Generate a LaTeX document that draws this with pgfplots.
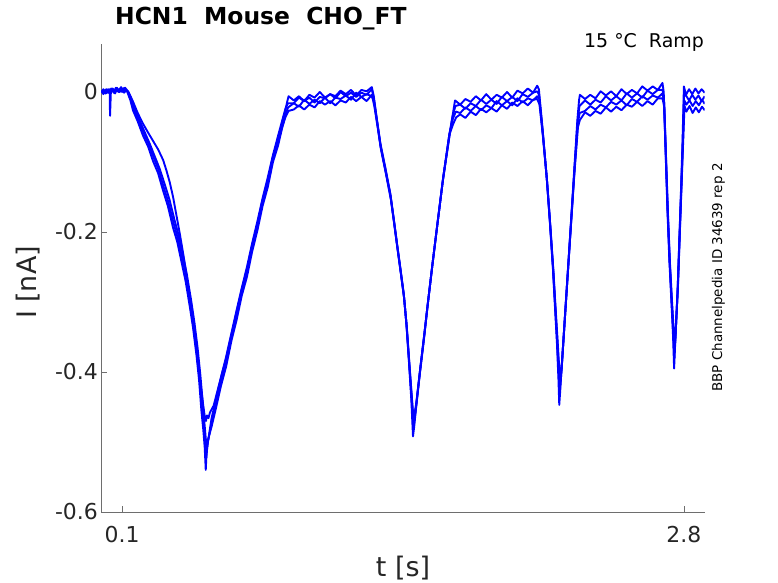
\documentclass[border=0pt]{standalone}
\usepackage{fontspec}
\setmainfont{DejaVu Sans}
\usepackage{graphicx}
\usepackage{pgfplots}
\pgfplotsset{compat=1.18}
\definecolor{txt}{RGB}{38,38,38}
\definecolor{axc}{RGB}{110,110,110}
\pgfplotsset{trace/.style={color=blue, no markers, line width=1.9pt, line join=round}}
\begin{document}
\begin{tikzpicture}
\begin{axis}[
  at={(101.3bp,71bp)}, anchor=south west,
  scale only axis, width=603.4bp, height=468bp,
  xmin=0, xmax=2.9, ymin=-0.6, ymax=0.0686,
  axis x line*=bottom, axis y line*=left,
  axis line style={-, axc, line width=0.6pt},
  xtick={0.1,2.8}, xticklabels={0.1,2.8},
  ytick={-0.6,-0.4,-0.2,0}, yticklabels={-0.6,-0.4,-0.2,0},
  tick align=inside, major tick length=6bp,
  tick style={axc, line width=0.6pt},
  ticklabel style={font=\fontsize{22}{26}\selectfont, text=txt},
  xticklabel style={anchor=base, yshift=-30.7bp},
]
% trace 1
\addplot[trace] coordinates {(0.000,0.002) (0.010,-0.003) (0.020,0.003) (0.030,-0.001) (0.040,0.004) (0.042,-0.034) (0.046,0.000) (0.055,0.005) (0.065,-0.001) (0.075,0.006) (0.085,0.001) (0.095,0.007) (0.105,0.002) (0.115,0.006) (0.125,0.000)
(0.14,-0.012) (0.152,-0.026) (0.175,-0.042) (0.200,-0.062) (0.225,-0.078) (0.249,-0.099) (0.273,-0.116) (0.297,-0.141) (0.320,-0.163) (0.345,-0.194) (0.365,-0.214) (0.385,-0.242) (0.405,-0.270) (0.425,-0.306) (0.441,-0.337) (0.457,-0.375) (0.470,-0.412) (0.481,-0.455) (0.490,-0.482) (0.497,-0.508) (0.502,-0.540) (0.506,-0.515) (0.512,-0.500)
(0.530,-0.472) (0.550,-0.447) (0.575,-0.414) (0.600,-0.386) (0.625,-0.350) (0.650,-0.320) (0.675,-0.285) (0.700,-0.258) (0.725,-0.222) (0.750,-0.192) (0.775,-0.157) (0.800,-0.130) (0.825,-0.094) (0.850,-0.070) (0.870,-0.043) (0.885,-0.025) (0.895,-0.012)
(0.900,-0.006) (0.925,-0.012) (0.950,-0.006) (0.975,-0.013) (1.000,-0.004) (1.025,-0.008) (1.050,0.000) (1.075,-0.008) (1.100,-0.003) (1.125,-0.006) (1.150,0.002) (1.175,-0.003) (1.200,0.003) (1.225,-0.005) (1.250,0.003) (1.275,0.001) (1.300,0.007)
(1.309,-0.005) (1.325,-0.040) (1.341,-0.073) (1.365,-0.108) (1.389,-0.145) (1.405,-0.180) (1.421,-0.216) (1.437,-0.251) (1.453,-0.287) (1.466,-0.330) (1.478,-0.383) (1.490,-0.440) (1.498,-0.492)
(1.505,-0.475) (1.510,-0.459) (1.530,-0.405) (1.550,-0.355) (1.566,-0.311) (1.590,-0.250) (1.614,-0.192) (1.640,-0.130) (1.670,-0.070) (1.685,-0.040) (1.700,-0.012)
(1.725,-0.018) (1.750,-0.010) (1.775,-0.014) (1.800,-0.006) (1.825,-0.012) (1.850,-0.003) (1.875,-0.011) (1.900,-0.004) (1.925,-0.008) (1.950,0.000) (1.975,-0.008) (2.000,0.002) (2.025,-0.002) (2.050,0.005) (2.075,-0.001) (2.095,0.009)
(2.103,0.004) (2.120,-0.050) (2.140,-0.120) (2.155,-0.182) (2.170,-0.250) (2.180,-0.305) (2.190,-0.360) (2.197,-0.410) (2.201,-0.447)
(2.206,-0.425) (2.210,-0.405) (2.230,-0.312) (2.250,-0.220) (2.270,-0.125) (2.288,-0.040) (2.296,-0.012)
(2.300,-0.004) (2.325,-0.010) (2.350,-0.004) (2.375,-0.009) (2.400,0.001) (2.425,-0.005) (2.450,0.001) (2.475,-0.006) (2.500,0.004) (2.525,-0.003) (2.550,0.003) (2.575,-0.002) (2.600,0.008) (2.625,0.002) (2.650,0.008) (2.675,0.003) (2.697,0.013)
(2.703,0.000) (2.712,-0.085) (2.721,-0.170) (2.730,-0.240) (2.740,-0.300) (2.748,-0.350) (2.753,-0.395)
(2.758,-0.360) (2.769,-0.290) (2.777,-0.220) (2.785,-0.150) (2.793,-0.075) (2.800,0.008)
(2.810,-0.004) (2.825,0.004) (2.840,-0.003) (2.855,0.005) (2.870,-0.002) (2.885,0.004) (2.900,-0.001)};
% trace 2
\addplot[trace] coordinates {(0.000,-0.001) (0.010,0.004) (0.020,-0.002) (0.030,0.003) (0.040,-0.002) (0.050,0.004) (0.060,0.000) (0.070,0.006) (0.080,0.001) (0.090,0.005) (0.100,0.000) (0.110,0.006) (0.120,0.002) (0.128,0.001)
(0.140,-0.008) (0.155,-0.024) (0.178,-0.040) (0.203,-0.058) (0.228,-0.075) (0.252,-0.094) (0.276,-0.112) (0.300,-0.136) (0.323,-0.158) (0.348,-0.188) (0.368,-0.209) (0.388,-0.236) (0.408,-0.264) (0.428,-0.300) (0.444,-0.331) (0.460,-0.368) (0.473,-0.405) (0.484,-0.446) (0.493,-0.478) (0.500,-0.505) (0.505,-0.522) (0.510,-0.505)
(0.530,-0.466) (0.550,-0.440) (0.575,-0.408) (0.600,-0.378) (0.625,-0.345) (0.650,-0.312) (0.675,-0.280) (0.700,-0.250) (0.725,-0.216) (0.750,-0.185) (0.775,-0.152) (0.800,-0.122) (0.825,-0.090) (0.850,-0.062) (0.870,-0.040) (0.885,-0.024) (0.897,-0.016)
(0.925,-0.016) (0.950,-0.008) (0.975,-0.013) (1.000,-0.008) (1.025,-0.015) (1.050,-0.007) (1.075,-0.009) (1.100,-0.003) (1.125,-0.009) (1.150,0.000) (1.175,-0.006) (1.200,-0.001) (1.225,-0.007) (1.250,-0.001) (1.275,-0.004) (1.300,0.004)
(1.310,-0.010) (1.326,-0.043) (1.342,-0.076) (1.366,-0.111) (1.390,-0.148) (1.406,-0.183) (1.422,-0.219) (1.438,-0.254) (1.454,-0.290) (1.467,-0.333) (1.479,-0.385) (1.491,-0.438) (1.499,-0.478)
(1.506,-0.468) (1.512,-0.452) (1.532,-0.398) (1.552,-0.348) (1.568,-0.306) (1.592,-0.245) (1.616,-0.187) (1.642,-0.125) (1.672,-0.062) (1.688,-0.035) (1.702,-0.020)
(1.725,-0.018) (1.750,-0.024) (1.775,-0.016) (1.800,-0.020) (1.825,-0.011) (1.850,-0.017) (1.875,-0.011) (1.900,-0.017) (1.925,-0.007) (1.950,-0.013) (1.975,-0.007) (2.000,-0.013) (2.025,-0.003) (2.050,-0.007) (2.075,-0.001) (2.095,0.001)
(2.104,-0.004) (2.121,-0.055) (2.141,-0.123) (2.156,-0.185) (2.171,-0.252) (2.181,-0.305) (2.191,-0.358) (2.198,-0.400) (2.203,-0.428)
(2.208,-0.412) (2.212,-0.398) (2.232,-0.305) (2.252,-0.212) (2.272,-0.120) (2.289,-0.042) (2.298,-0.020)
(2.325,-0.012) (2.350,-0.018) (2.375,-0.011) (2.400,-0.015) (2.425,-0.006) (2.450,-0.012) (2.475,-0.006) (2.500,-0.012) (2.525,-0.002) (2.550,-0.008) (2.575,-0.002) (2.600,-0.008) (2.625,0.002) (2.650,-0.003) (2.675,0.003) (2.697,0.003)
(2.704,-0.008) (2.713,-0.090) (2.722,-0.172) (2.731,-0.240) (2.741,-0.300) (2.749,-0.345) (2.754,-0.380)
(2.759,-0.350) (2.770,-0.282) (2.778,-0.214) (2.786,-0.146) (2.794,-0.075) (2.801,-0.004)
(2.810,-0.005) (2.825,-0.012) (2.840,-0.004) (2.855,-0.011) (2.870,-0.005) (2.885,-0.013) (2.900,-0.006)};
% trace 3
\addplot[trace] coordinates {(0.000,0.001) (0.012,-0.002) (0.024,0.004) (0.036,0.000) (0.048,0.005) (0.060,-0.001) (0.072,0.004) (0.084,0.000) (0.096,0.006) (0.108,0.001) (0.120,0.004) (0.130,0.000)
(0.145,-0.010) (0.160,-0.024) (0.183,-0.040) (0.208,-0.057) (0.233,-0.074) (0.257,-0.092) (0.281,-0.110) (0.305,-0.132) (0.328,-0.154) (0.352,-0.183) (0.372,-0.205) (0.392,-0.232) (0.412,-0.262) (0.432,-0.298) (0.448,-0.330) (0.463,-0.366) (0.476,-0.404) (0.487,-0.442) (0.496,-0.474) (0.503,-0.498) (0.508,-0.508) (0.512,-0.498)
(0.530,-0.478) (0.550,-0.453) (0.575,-0.420) (0.600,-0.392) (0.625,-0.356) (0.650,-0.326) (0.675,-0.291) (0.700,-0.264) (0.725,-0.228) (0.750,-0.198) (0.775,-0.163) (0.800,-0.136) (0.825,-0.100) (0.850,-0.076) (0.870,-0.050) (0.885,-0.032) (0.898,-0.022)
(0.925,-0.016) (0.950,-0.021) (0.975,-0.011) (1.000,-0.017) (1.025,-0.011) (1.050,-0.016) (1.075,-0.008) (1.100,-0.016) (1.125,-0.008) (1.150,-0.010) (1.175,-0.005) (1.200,-0.011) (1.225,-0.001) (1.250,-0.007) (1.275,-0.003) (1.300,-0.006)
(1.311,-0.014) (1.327,-0.046) (1.343,-0.079) (1.367,-0.114) (1.391,-0.151) (1.407,-0.186) (1.423,-0.222) (1.439,-0.257) (1.455,-0.293) (1.468,-0.336) (1.480,-0.387) (1.492,-0.436) (1.500,-0.470)
(1.507,-0.462) (1.513,-0.448) (1.533,-0.395) (1.553,-0.345) (1.569,-0.303) (1.593,-0.243) (1.617,-0.185) (1.643,-0.123) (1.673,-0.060) (1.690,-0.038) (1.704,-0.028)
(1.725,-0.030) (1.750,-0.022) (1.775,-0.027) (1.800,-0.020) (1.825,-0.026) (1.850,-0.019) (1.875,-0.023) (1.900,-0.013) (1.925,-0.019) (1.950,-0.013) (1.975,-0.019) (2.000,-0.009) (2.025,-0.015) (2.050,-0.009) (2.075,-0.012) (2.095,-0.006)
(2.105,-0.010) (2.122,-0.060) (2.142,-0.126) (2.157,-0.188) (2.172,-0.254) (2.182,-0.306) (2.192,-0.356) (2.199,-0.395) (2.204,-0.420)
(2.209,-0.405) (2.213,-0.392) (2.233,-0.300) (2.253,-0.208) (2.273,-0.117) (2.290,-0.045) (2.299,-0.030)
(2.325,-0.027) (2.350,-0.020) (2.375,-0.025) (2.400,-0.018) (2.425,-0.022) (2.450,-0.014) (2.475,-0.018) (2.500,-0.012) (2.525,-0.019) (2.550,-0.010) (2.575,-0.014) (2.600,-0.006) (2.625,-0.011) (2.650,-0.005) (2.675,-0.008) (2.697,-0.002)
(2.705,-0.015) (2.714,-0.095) (2.723,-0.175) (2.732,-0.242) (2.742,-0.300) (2.750,-0.342) (2.755,-0.372)
(2.760,-0.345) (2.771,-0.278) (2.779,-0.210) (2.787,-0.143) (2.795,-0.075) (2.802,-0.012)
(2.812,-0.018) (2.827,-0.012) (2.842,-0.020) (2.857,-0.013) (2.872,-0.019) (2.887,-0.011) (2.900,-0.017)};
% trace 4
\addplot[trace] coordinates {(0.000,0.000) (0.011,0.003) (0.022,-0.002) (0.033,0.004) (0.044,-0.001) (0.055,0.003) (0.066,-0.002) (0.077,0.005) (0.088,0.000) (0.099,0.004) (0.110,-0.001) (0.120,0.003) (0.130,0.000)
(0.150,-0.012) (0.175,-0.030) (0.200,-0.045) (0.225,-0.058) (0.249,-0.070) (0.273,-0.082) (0.297,-0.097) (0.313,-0.112) (0.329,-0.129) (0.345,-0.150) (0.361,-0.176) (0.377,-0.202) (0.393,-0.230) (0.409,-0.260) (0.425,-0.293) (0.441,-0.330) (0.457,-0.368) (0.469,-0.398) (0.481,-0.426) (0.490,-0.448) (0.497,-0.463) (0.503,-0.470) (0.508,-0.462) (0.515,-0.466) (0.522,-0.458)
(0.540,-0.448) (0.560,-0.425) (0.580,-0.402) (0.600,-0.381) (0.625,-0.347) (0.650,-0.315) (0.675,-0.282) (0.700,-0.253) (0.725,-0.219) (0.750,-0.189) (0.775,-0.154) (0.800,-0.127) (0.825,-0.092) (0.850,-0.070) (0.870,-0.050) (0.885,-0.036) (0.900,-0.027)
(0.925,-0.025) (0.950,-0.019) (0.975,-0.025) (1.000,-0.018) (1.025,-0.022) (1.050,-0.013) (1.075,-0.018) (1.100,-0.013) (1.125,-0.019) (1.150,-0.012) (1.175,-0.015) (1.200,-0.007) (1.225,-0.013) (1.250,-0.007) (1.275,-0.013) (1.300,-0.004)
(1.312,-0.020) (1.328,-0.050) (1.344,-0.082) (1.368,-0.117) (1.392,-0.154) (1.408,-0.189) (1.424,-0.225) (1.440,-0.260) (1.456,-0.296) (1.469,-0.339) (1.481,-0.389) (1.493,-0.438) (1.500,-0.465)
(1.508,-0.455) (1.514,-0.444) (1.534,-0.392) (1.554,-0.342) (1.570,-0.300) (1.594,-0.240) (1.618,-0.182) (1.644,-0.120) (1.674,-0.060) (1.692,-0.045) (1.706,-0.036)
(1.725,-0.032) (1.750,-0.037) (1.775,-0.028) (1.800,-0.033) (1.825,-0.024) (1.850,-0.029) (1.875,-0.023) (1.900,-0.028) (1.925,-0.019) (1.950,-0.024) (1.975,-0.015) (2.000,-0.020) (2.025,-0.013) (2.050,-0.019) (2.075,-0.011) (2.095,-0.010)
(2.106,-0.018) (2.123,-0.065) (2.143,-0.130) (2.158,-0.191) (2.173,-0.256) (2.183,-0.307) (2.193,-0.355) (2.200,-0.390) (2.205,-0.412)
(2.210,-0.398) (2.214,-0.386) (2.234,-0.296) (2.254,-0.205) (2.274,-0.115) (2.291,-0.050) (2.300,-0.040)
(2.325,-0.029) (2.350,-0.034) (2.375,-0.027) (2.400,-0.031) (2.425,-0.022) (2.450,-0.028) (2.475,-0.021) (2.500,-0.026) (2.525,-0.018) (2.550,-0.021) (2.575,-0.014) (2.600,-0.020) (2.625,-0.013) (2.650,-0.018) (2.675,-0.009) (2.697,-0.009)
(2.706,-0.022) (2.715,-0.100) (2.724,-0.178) (2.733,-0.244) (2.743,-0.300) (2.751,-0.340) (2.756,-0.366)
(2.761,-0.340) (2.772,-0.274) (2.780,-0.206) (2.788,-0.140) (2.796,-0.075) (2.803,-0.020)
(2.812,-0.028) (2.827,-0.020) (2.842,-0.030) (2.857,-0.022) (2.872,-0.029) (2.887,-0.021) (2.900,-0.026)};
\end{axis}
\node[anchor=base west, inner sep=0pt, font=\bfseries\fontsize{23.5}{28}\selectfont] at (115bp,558bp) {HCN1\ \ Mouse\ \ CHO\_FT};
\node[anchor=base east, inner sep=0pt, text=black, font=\fontsize{19}{23}\selectfont] at (704bp,535.5bp) {15 °C\ \ Ramp};
\node[rotate=90, anchor=base, inner sep=0pt, text=black, font=\fontsize{13.5}{16}\selectfont] at (722bp,305.5bp) {BBP Channelpedia ID 34639 rep 2};
\node[anchor=base, inner sep=0pt, text=txt, font=\fontsize{27}{32}\selectfont] at (403bp,7bp) {t [s]};
\node[rotate=90, anchor=base, inner sep=0pt, text=txt, font=\fontsize{27}{32}\selectfont] at (36.5bp,300.5bp) {I [nA]};
\pgfresetboundingbox
\path[use as bounding box] (0,0) rectangle (778bp,583bp);
\end{tikzpicture}
\end{document}
